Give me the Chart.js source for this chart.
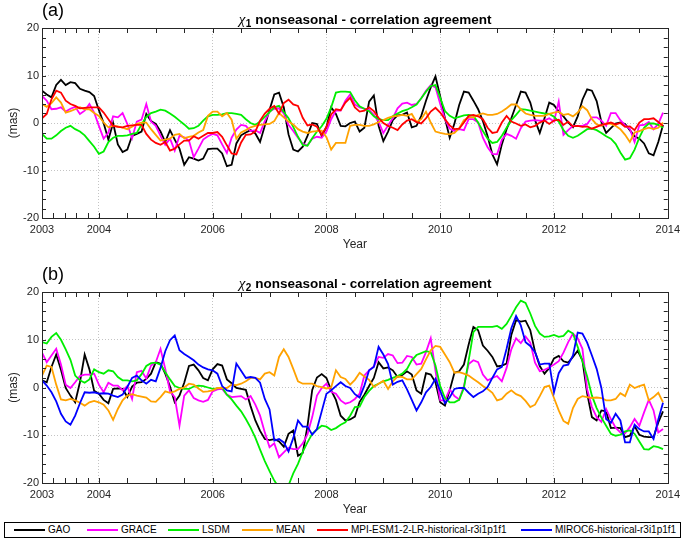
<!DOCTYPE html>
<html>
<head>
<meta charset="utf-8">
<script src="https://cdn.jsdelivr.net/npm/chart.js@4/dist/chart.umd.min.js"></script>
<style>
  body { margin: 0; background: #fff; font-family: "Liberation Sans", Arial, sans-serif; }
  #wrap { position: relative; width: 685px; height: 542px; overflow: hidden; }
  canvas { position: absolute; left: 0; }
  #legend { position: absolute; left: 4px; top: 522px; width: 677px; height: 16px;
            border: 1px solid #000; box-sizing: border-box; font-size: 10px; color: #000; }
  .item { position: absolute; top: 0; height: 14px; line-height: 14px; white-space: nowrap; }
  .item span.sw { display: inline-block; width: 31px; height: 2px; vertical-align: middle; margin-right: 3px; }
</style>
</head>
<body>
<div id="wrap">
  <canvas id="chartA" width="685" height="256" style="top:0"></canvas>
  <canvas id="chartB" width="685" height="257" style="top:264px"></canvas>
  <div id="legend"></div>
</div>
<script>
// monthly values Jan 2003 .. Dec 2013 (mas)
const gaoA = [
  6.8, 6.0, 5.4, 8.0, 9.1, 8.0, 8.6, 8.4, 7.2, 6.8, 6.5, 5.7,
  2.7, 0.0, -3.5, 0.0, -4.5, -6.1, -5.6, -2.7, -2.3, -1.8, 1.9, 0.4,
  -0.2, -1.8, -4.0, -1.5, -3.5, -5.4, -8.8, -7.2, -7.5, -7.9, -7.5, -5.5,
  -5.4, -5.4, -6.4, -9.1, -8.8, -4.3, -2.6, -2.0, -1.5, -2.2, -4.0, -0.6,
  2.8, 6.0, 6.4, 3.3, -2.4, -5.6, -6.0, -5.0, -2.7, 0.0, -0.2, -2.7,
  -0.9, 3.3, 1.9, -0.6, -0.7, 0.0, 0.3, -1.8, -1.0, 4.5, 5.8, -0.6,
  -3.8, -1.8, 0.6, 1.6, 1.7, 2.2, -0.9, -0.6, 1.5, 4.7, 7.5, 9.8,
  5.6, 1.0, -3.1, -0.1, 3.8, 6.6, 6.4, 4.7, 2.9, 0.4, -2.8, -6.6,
  -8.7, -4.5, -1.3, 1.0, 3.8, 6.6, 6.4, 4.3, 0.6, -2.1, 1.0, 4.3,
  3.8, 2.4, 1.4, 0.1, -0.9, 1.4, 4.9, 7.1, 6.8, 4.6, 0.2, -2.1,
  -1.1, -0.1, 0.1, -0.2, -1.5, -2.8, -3.3, -4.3, -6.4, -6.8, -4.0, -0.4
];
const graceA = [
  5.7, 4.7, 2.9, 3.0, 3.3, 2.4, 3.0, 3.4, 1.9, 2.6, 4.0, 2.2,
  -0.6, -3.3, -2.0, 1.4, 1.2, 2.1, -0.2, -3.2, 0.3, 0.7, 4.0, 0.3,
  -0.6, -2.7, -4.6, -3.3, -5.8, -2.7, -3.0, -3.7, -7.2, -5.4, -3.5, -2.8,
  -2.3, -2.6, -4.5, -6.3, -3.1, -1.4, -0.4, -0.6, -1.7, -1.5, -2.1, 0.4,
  2.4, 3.0, 3.1, 2.0, -0.4, -1.7, -3.1, -4.4, -4.7, -3.3, -2.9, -3.1,
  -1.8, 0.8, 2.6, 2.6, 4.7, 6.0, 3.9, 3.3, 3.0, 2.8, 1.7, 0.3,
  -2.1, -0.5, 1.0, 3.1, 4.1, 4.3, 3.8, 4.0, 5.2, 6.8, 8.0, 7.5,
  4.0, 0.8, -1.2, -1.7, -1.3, -1.5, 0.8, 0.8, 0.1, -3.1, -5.1, -6.5,
  -6.6, -3.5, -2.3, -2.7, -3.3, -1.1, 0.3, 0.5, 0.6, 0.5, 0.5, 1.0,
  0.3, 4.5, -2.5, -1.5, -0.6, -0.6, -0.6, -0.2, 1.2, 1.2, 0.5, -0.6,
  2.1, 2.1, 0.6, -0.5, -1.2, -4.0, -0.5, -0.4, 0.2, -1.3, -0.2, 2.2
];
const lsdmA = [
  -2.3, -3.3, -3.3, -2.6, -1.7, -1.0, -0.6, -1.3, -1.8, -2.6, -3.8, -5.0,
  -6.5, -6.0, -4.0, -3.1, -2.7, -2.7, -2.6, -2.3, -2.1, -0.3, 1.3, 2.1,
  2.4, 2.8, 2.6, 2.0, 1.3, 0.5, -0.3, -1.2, -1.1, -0.6, 0.5, 1.4,
  1.7, 1.7, 1.8, 2.1, 2.1, 1.9, 1.7, 0.8, 0.0, -0.4, 0.3, 1.3,
  2.3, 3.3, 3.6, 2.3, 1.0, -0.8, -2.9, -4.6, -4.8, -3.2, -1.8, -0.7,
  0.9, 3.3, 6.4, 6.6, 6.6, 6.5, 4.8, 3.5, 3.0, 2.5, 1.4, 0.8,
  0.6, 0.6, 1.4, 2.0, 2.5, 2.8, 3.3, 3.9, 5.2, 6.6, 7.8, 8.0,
  5.3, 2.5, 1.5, 1.0, 1.3, 1.6, 1.7, 1.5, 0.1, -1.7, -3.3, -4.2,
  -4.0, -2.7, -1.0, 0.6, 1.7, 2.9, 2.8, 2.6, 2.4, 2.2, 2.0, 1.9,
  1.3, 0.3, -1.5, -2.7, -3.1, -2.7, -2.0, -1.3, -1.2, -1.5, -2.1, -2.8,
  -3.3, -4.4, -6.2, -7.7, -7.4, -5.6, -3.1, -1.0, -0.1, -0.1, -0.4, -1.0
];
const meanA = [
  4.0, 3.4, 4.2, 5.4, 4.3, 2.2, 2.5, 2.9, 3.3, 2.9, 2.9, 2.1,
  1.5, 0.1, -0.9, -0.6, -0.7, -1.0, -1.3, -0.8, -0.2, 0.1, 0.1, -1.3,
  -2.5, -3.7, -3.5, -3.3, -2.5, -2.3, -3.2, -2.9, -2.7, -2.0, -1.5, 1.5,
  2.4, 2.4, 1.4, 2.1, 0.7, -3.3, -2.0, -1.5, -0.9, -0.6, -0.4, -0.3,
  -0.2, 0.4, 2.1, 1.2, 0.3, -0.3, -1.3, -1.8, -2.1, -1.8, -1.7, -1.6,
  -3.0, -5.6, -4.2, -4.2, -4.2, -0.6, -0.4, -0.4, -0.6, -0.6, -0.3, 0.2,
  0.6, 1.1, 1.4, 1.5, 1.7, 1.5, 1.9, 0.2, 0.8, 2.4, 0.1, -1.8,
  -2.1, -2.3, -2.4, -2.1, -1.1, 0.6, 1.2, 1.2, 1.7, 2.0, 1.7, 1.7,
  1.9, 2.4, 3.1, 3.9, 3.9, 2.9, 2.0, 1.7, 1.5, 1.5, 1.5, 1.9,
  2.2, 2.4, 1.7, 1.9, 1.4, 2.2, 3.5, 2.7, 0.8, -0.3, -0.6, -0.1,
  -0.2, -0.6, -1.3, -2.5, -4.0, -2.0, -1.7, -1.3, -1.0, -1.3, -1.0, 0.1
];
const mpiA = [
  1.0, 1.9, 5.0, 6.8, 6.4, 4.7, 4.0, 3.6, 3.1, 3.2, 3.3, 3.3,
  3.3, 2.2, 0.8, -0.6, -0.8, -0.9, -0.6, -0.5, -0.4, -0.4, -2.3, -3.5,
  -4.2, -4.6, -4.0, -5.8, -5.4, -4.5, -3.7, -3.7, -2.8, -3.3, -2.7, -2.1,
  -2.1, -1.9, -2.9, -4.7, -6.4, -6.6, -4.1, -2.5, -2.4, -1.8, 0.5, 2.0,
  3.0, 3.6, 2.0, 4.2, 4.9, 3.9, 3.6, 1.1, -0.5, -0.3, -0.8, -2.5,
  -0.8, 1.8, 2.9, 2.7, 4.3, 5.3, 3.3, 2.4, 2.6, 3.3, 2.5, 1.1,
  0.0, -0.6, -1.0, -1.5, -0.3, 0.5, 0.8, 0.2, -0.1, 1.0, 2.4, 3.2,
  2.2, 0.8, -0.5, -1.3, -1.2, 0.1, 1.5, 1.7, 1.4, 0.8, -1.0, -2.1,
  -1.9, 0.1, 1.5, 0.3, -0.1, -0.6, -0.3, -0.9, -0.6, 0.1, 0.5, -0.2,
  0.5, 0.7, -0.4, 0.3, -0.7, -0.6, -0.8, -0.7, -1.2, -0.8, -0.4, -0.2,
  0.1, -0.3, 0.0, -0.8, -0.7, -1.5, 0.1, 0.8, 0.8, 1.0, 0.2, -0.6
];

const gaoB = [
  1.5, 1.1, 4.3, 6.9, 3.7, -0.1, -1.7, -3.1, 1.1, 6.9, 3.8, -0.7,
  -1.3, -2.6, -3.3, -0.3, -0.2, -0.3, -2.0, 0.2, 1.0, 1.1, 1.8, 2.9,
  5.3, 5.0, 2.9, 0.2, -3.1, -1.7, 1.0, 4.5, 4.8, 3.6, 2.0, 1.5,
  3.8, 4.9, 4.6, 1.7, 0.9, -0.1, -0.3, -0.5, -3.9, -6.9, -9.1, -10.8,
  -11.0, -10.8, -11.3, -12.4, -9.7, -9.0, -14.3, -13.7, -8.1, -0.5, 2.1, 2.8,
  2.0, -0.6, -2.6, -5.9, -6.9, -6.7, -6.1, -3.0, -1.5, 0.3, 2.0, 5.3,
  4.0, 4.2, 3.6, 2.2, 2.6, 3.4, 2.7, -0.6, -1.3, 3.0, 2.7, 1.1,
  -3.1, -3.8, -0.6, 3.1, 3.4, 4.8, 9.0, 12.7, 12.0, 8.8, 7.7, 6.4,
  4.4, 4.6, 5.0, 11.0, 14.1, 13.8, 14.0, 12.0, 7.5, 4.5, 2.9, 4.1,
  6.1, 6.6, 5.5, 5.2, 6.4, 7.7, 5.7, -1.3, -6.2, -6.9, -4.8, -5.0,
  -8.5, -8.4, -8.5, -10.4, -10.1, -8.1, -9.9, -10.3, -10.4, -10.4, -7.3, -5.0
];
const graceB = [
  7.3, 5.3, 6.7, 8.1, 4.8, 0.6, -0.1, 1.1, 2.4, 2.7, 2.7, 2.9,
  0.6, -1.0, 1.0, 0.4, 0.4, -0.6, 0.3, -2.4, 3.2, 3.5, 1.9, 4.6,
  5.3, 8.1, 3.9, -0.8, -2.0, -8.0, -1.7, -0.6, -2.2, -2.7, -3.0, -2.6,
  -0.8, -0.4, -0.3, -1.5, -2.0, -1.9, -1.8, -2.5, -1.8, -3.6, -5.9, -9.4,
  -12.5, -11.7, -14.6, -13.6, -12.6, -12.9, -12.9, -11.7, -9.8, -6.2, -1.7, -0.1,
  0.8, -0.9, -1.3, -2.7, -3.4, -3.1, -2.4, -1.3, 2.5, 3.6, 4.4, 6.4,
  6.2, 7.0, 6.7, 5.1, 5.2, 6.6, 6.4, 4.8, 5.0, 7.4, 10.3, 3.5,
  -2.7, -2.7, -0.4, -1.8, -2.5, 0.3, 4.9, 5.7, 5.3, 2.7, 1.5, 2.0,
  2.4, 1.3, 4.1, 8.0, 10.3, 9.3, 10.7, 9.4, 5.2, 3.4, 3.7, 4.2,
  4.8, 5.5, 7.3, 9.5, 11.3, 10.3, 8.1, -0.4, -4.1, -6.2, -7.2, -4.5,
  -6.6, -8.4, -9.4, -9.6, -8.3, -6.6, -8.0, -5.2, -2.6, -4.8, -9.4, -8.7
];
const lsdmB = [
  9.5, 9.2, 10.6, 11.4, 10.0, 8.0, 5.8, 2.5, 1.5, 1.0, 1.7, 3.8,
  3.2, 2.9, 3.6, 3.4, 2.2, 1.5, 1.5, 1.3, 1.5, 2.8, 4.5, 5.1,
  5.2, 4.8, 3.2, 1.7, 0.3, -0.1, -0.3, -0.3, 0.2, 0.4, 0.3, 0.0,
  -0.3, -0.2, 0.0, -1.5, -2.5, -3.8, -5.0, -6.6, -8.4, -10.5, -13.0, -15.4,
  -17.5, -19.5, -21.0, -21.5, -20.5, -18.0, -16.0, -13.5, -11.5, -9.7, -8.8, -8.0,
  -8.2, -8.9, -8.5, -7.8, -7.3, -5.9, -4.1, -4.0, -2.0, -0.7, 0.3, 0.8,
  1.3, 1.6, 2.0, 2.4, 2.9, 3.9, 5.7, 6.8, 7.2, 7.6, 7.4, 4.6,
  0.3, -2.2, -3.1, -3.1, -2.6, -0.1, 5.7, 11.6, 12.7, 12.7, 12.7, 12.7,
  12.9, 12.3, 13.3, 15.0, 16.8, 18.2, 17.7, 15.5, 12.9, 11.3, 10.6, 10.7,
  11.0, 10.6, 10.8, 11.9, 11.3, 8.5, 5.5, 2.3, -1.7, -4.3, -6.3, -8.0,
  -9.7, -10.1, -9.9, -9.2, -9.0, -9.7, -11.3, -12.9, -13.0, -12.3, -12.5, -12.9
];
const meanB = [
  2.5, 4.6, 4.3, 0.6, -2.5, -2.7, -2.4, -2.7, -3.2, -3.8, -3.1, -2.8,
  -3.1, -3.6, -4.8, -6.8, -4.5, -2.7, -1.7, -1.4, -1.7, -1.9, -2.1, -2.9,
  -3.0, -2.0, -0.8, -1.1, -0.8, -0.3, 0.0, 0.8, 0.6, -0.2, -0.9, -0.8,
  -0.6, -0.1, -0.1, -0.1, 0.6, 0.5, 0.8, 1.3, 2.0, 2.0, 1.7, 2.9,
  3.2, 2.5, 6.4, 8.0, 6.4, 3.9, 1.3, 0.8, 0.8, 0.8, 0.3, 0.1,
  -0.2, 0.0, 3.6, 2.2, 1.8, 0.6, 1.6, 3.1, 2.3, 1.6, 0.1, 0.8,
  1.4, -0.3, 1.3, 2.3, 2.2, 1.7, 1.7, 2.8, 3.9, 5.9, 7.8, 8.7,
  8.5, 6.9, 5.3, 3.1, 3.2, 2.9, 2.5, 1.8, 1.1, 0.3, -0.3, -1.1,
  -2.7, -2.4, -1.3, -0.6, -1.4, -1.8, -2.8, -4.1, -3.6, -1.8, 0.1, 0.4,
  -2.2, -4.8, -7.0, -7.6, -4.3, -2.4, -1.8, -2.0, -2.2, -2.1, -2.2, -2.7,
  -2.7, -2.4, -1.2, -1.8, 0.6, -0.1, 0.3, 0.6, -2.7, -2.0, -1.1, -3.1
];
const mirocB = [
  1.5, 0.4, -1.0, -2.9, -5.5, -7.1, -7.8, -5.9, -3.3, -1.0, -1.1, -1.0,
  -1.3, -1.2, -1.3, -1.7, -2.0, -1.5, 0.1, 2.0, 2.5, 1.5, 0.8, 1.6,
  1.3, 4.1, 7.6, 9.9, 10.9, 7.8, 7.0, 6.4, 5.7, 4.8, 4.2, 3.8,
  3.6, 2.9, 0.3, -0.6, -0.8, 5.0, 3.5, 2.0, 2.2, 2.0, 1.0, -2.4,
  -4.6, -11.1, -10.8, -11.5, -13.4, -10.6, -6.9, -8.2, -8.2, -9.9, -8.7, -5.0,
  -1.3, -0.6, 0.3, 1.1, 0.3, -0.1, -1.4, -2.1, 0.4, 3.6, 4.3, 8.5,
  6.9, 4.9, 0.6, 1.2, 1.5, -0.4, -2.6, -4.8, -3.1, -1.0, 0.1, 1.8,
  -0.7, -3.3, -2.1, -0.3, -0.1, -0.1, -1.1, -2.0, -1.3, -0.8, 0.1, 2.0,
  3.8, 4.3, 8.1, 12.4, 15.0, 13.0, 9.5, 8.7, 7.4, 4.8, 5.0, 5.0,
  -1.0, 3.0, 4.6, 4.8, 6.7, 11.5, 11.3, 9.4, 6.7, 3.9, -0.1, -6.6,
  -7.4, -5.5, -6.9, -11.5, -11.5, -7.8, -8.7, -9.2, -9.2, -10.8, -6.7, -3.2
];

const seriesNames = ['GAO', 'GRACE', 'LSDM', 'MEAN', 'MPI-ESM1-2-LR-historical-r3i1p1f1', 'MIROC6-historical-r3i1p1f1'];
const seriesColors = ['#000000', '#ff00ff', '#00ee00', '#ffa200', '#ff0000', '#0000ff'];

const xTicks = [2003, 2003.2, 2003.4, 2003.6, 2003.8, 2004, 2004.5, 2005, 2005.5, 2006, 2006.5,
  2007, 2007.5, 2008, 2008.5, 2009, 2009.5, 2010, 2010.5, 2011, 2011.5, 2012, 2012.5,
  2013, 2013.5, 2014];
const xLabels = [2003, 2004, 2006, 2008, 2010, 2012, 2014];
const yMinor = [-20, -18, -16, -14, -12, -10, -8, -6, -4, -2, 0, 2, 4, 6, 8, 10, 12, 14, 16, 18, 20];

const titleText = ' nonseasonal - correlation agreement';

// decimal year of each monthly sample
const years = gaoA.map((_, i) => 2003 + i / 12);

function pts(vals) {
  return vals.map((v, i) => ({ x: years[i], y: v }));
}

const frame = {
  id: 'frame',
  afterDatasetsDraw(chart, args, opts) {
    const { ctx, chartArea: a, scales: { x, y } } = chart;
    ctx.save();
    ctx.strokeStyle = '#262626';
    ctx.lineWidth = 1;
    ctx.beginPath();
    xTicks.forEach(v => {
      const px = Math.round(x.getPixelForValue(v)) + 0.5;
      ctx.moveTo(px, a.bottom); ctx.lineTo(px, a.bottom - 5);
      ctx.moveTo(px, a.top); ctx.lineTo(px, a.top + 5);
    });
    yMinor.forEach(v => {
      const py = Math.round(y.getPixelForValue(v)) + 0.5;
      ctx.moveTo(a.left, py); ctx.lineTo(a.left + 4, py);
      ctx.moveTo(a.right, py); ctx.lineTo(a.right - 4, py);
    });
    ctx.stroke();
    ctx.strokeRect(Math.round(a.left) + 0.5, Math.round(a.top) + 0.5,
                   Math.round(a.width), Math.round(a.height));

    // panel letter
    ctx.fillStyle = '#000';
    ctx.textBaseline = 'alphabetic';
    ctx.textAlign = 'left';
    ctx.font = '18px "Liberation Sans"';
    ctx.fillText(opts.letter, a.left, a.top - 12);

    // title: italic chi, subscript, bold text
    ctx.font = 'italic 15px "Liberation Serif"';
    const wChi = ctx.measureText('\u03c7').width;
    ctx.font = 'bold 10px "Liberation Sans"';
    const wSub = ctx.measureText(opts.sub).width;
    ctx.font = 'bold 13.5px "Liberation Sans"';
    const wTxt = ctx.measureText(titleText).width;
    let sx = (a.left + a.right) / 2 + 10 - (wChi + wSub + wTxt) / 2;
    const base = a.top - 4;
    ctx.font = 'italic 15px "Liberation Serif"';
    ctx.fillText('\u03c7', sx, base);
    sx += wChi + 0.5;
    ctx.font = 'bold 10px "Liberation Sans"';
    ctx.fillText(opts.sub, sx, base + 3);
    sx += wSub;
    ctx.font = 'bold 13.5px "Liberation Sans"';
    ctx.fillText(titleText, sx, base);
    ctx.restore();
  }
};

function makeChart(id, datasets, letter, sub) {
  return new Chart(document.getElementById(id).getContext('2d'), {
    type: 'line',
    data: { datasets: datasets },
    options: {
      responsive: false,
      animation: false,
      devicePixelRatio: 1,
      layout: { padding: { top: 28, left: 5, right: 15, bottom: 2 } },
      elements: { point: { radius: 0 }, line: { borderWidth: 1.8, tension: 0 } },
      plugins: {
        legend: { display: false },
        tooltip: { enabled: false },
        frame: { letter: letter, sub: sub }
      },
      scales: {
        x: {
          type: 'linear',
          min: 2003,
          max: 2014,
          afterBuildTicks: s => { s.ticks = xTicks.map(v => ({ value: v })); },
          afterFit: s => { s.height = 36; },
          ticks: {
            autoSkip: false,
            maxRotation: 0,
            padding: 5,
            color: '#262626',
            font: { family: 'Liberation Sans', size: 11 },
            callback: v => xLabels.includes(v) ? String(v) : ''
          },
          grid: {
            drawTicks: false,
            color: c => (c.tick && xLabels.includes(c.tick.value) && c.tick.value !== 2003 && c.tick.value !== 2014)
              ? '#c4c4c4' : 'rgba(0,0,0,0)'
          },
          border: { display: false, dash: [1, 2] },
          title: {
            display: true, text: 'Year', color: '#262626',
            font: { family: 'Liberation Sans', size: 12 },
            padding: { top: 0, bottom: 2 }
          }
        },
        y: {
          min: -20,
          max: 20,
          afterFit: s => { s.width = 37; },
          ticks: {
            stepSize: 10,
            padding: 3,
            color: '#262626',
            font: { family: 'Liberation Sans', size: 11 }
          },
          grid: {
            drawTicks: false,
            color: c => (c.tick && Math.abs(c.tick.value) < 20) ? '#c4c4c4' : 'rgba(0,0,0,0)'
          },
          border: { display: false, dash: [1, 2] },
          title: {
            display: true, text: '(mas)', color: '#262626',
            font: { family: 'Liberation Sans', size: 12 },
            padding: { top: 1, bottom: 0 }
          }
        }
      }
    },
    plugins: [frame]
  });
}

function ds(i, vals, order) {
  return { label: seriesNames[i], data: pts(vals), borderColor: seriesColors[i],
           backgroundColor: seriesColors[i], fill: false, clip: 0, order: order };
}

makeChart('chartA', [
  ds(0, gaoA, 5), ds(1, graceA, 4), ds(2, lsdmA, 3), ds(3, meanA, 2), ds(4, mpiA, 1)
], '(a)', '1');

makeChart('chartB', [
  ds(0, gaoB, 5), ds(1, graceB, 4), ds(2, lsdmB, 3), ds(3, meanB, 2), ds(5, mirocB, 1)
], '(b)', '2');

// shared legend box
const legendLeft = [9, 82, 163, 237, 312, 516];
const legend = document.getElementById('legend');
seriesNames.forEach((name, i) => {
  const it = document.createElement('div');
  it.className = 'item';
  it.style.left = legendLeft[i] + 'px';
  it.innerHTML = '<span class="sw" style="background:' + seriesColors[i] + '"></span>' + name;
  legend.appendChild(it);
});
</script>
</body>
</html>
